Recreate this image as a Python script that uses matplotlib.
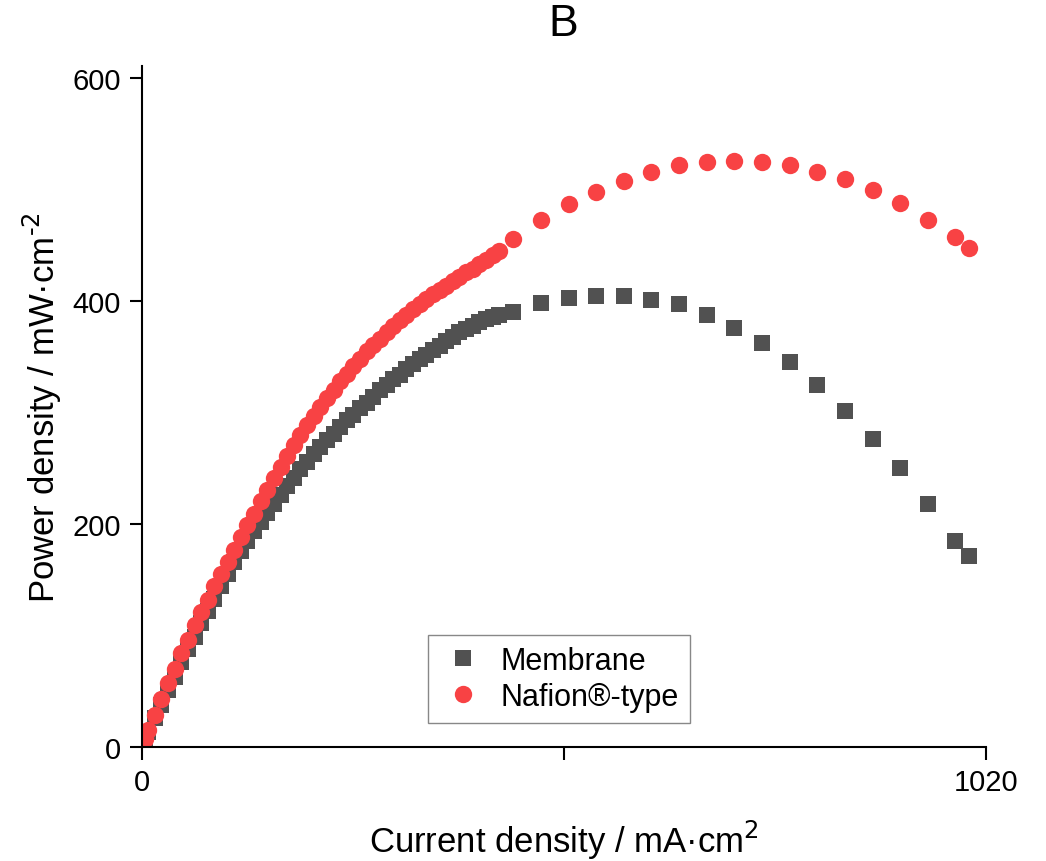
import matplotlib
matplotlib.use('Agg')
import matplotlib.pyplot as plt

plt.rcParams['font.family'] = ['Liberation Sans', 'DejaVu Sans']

# current density (mA/cm2) and power density (mW/cm2)
mem_current = [0, 4, 8, 16, 24, 32, 40, 48, 56, 64, 72, 80, 88, 96, 104, 112, 120,
               128, 136, 144, 152, 160, 168, 176, 184, 192, 200, 208, 216, 224, 232,
               240, 248, 256, 264, 272, 280, 288, 296, 304, 312, 320, 328, 336, 344,
               352, 360, 368, 376, 384, 392, 400, 408, 416, 424, 432,
               449, 482, 516, 549, 583, 616, 649, 683, 716, 750, 783, 816, 850, 883,
               916, 950, 983, 1000]
mem_power = [0, 6, 13, 26, 38, 51, 63, 76, 88, 99, 111, 122, 133, 144, 155, 166, 176,
             185, 194, 202, 210, 218, 226, 234, 241, 249, 256, 263, 269, 275, 281,
             287, 293, 298, 304, 309, 314, 320, 325, 330, 334, 339, 344, 348, 352,
             356, 360, 364, 368, 372, 375, 378, 381, 384, 386, 388,
             390, 398, 403, 405, 405, 401, 397, 388, 376, 362, 345, 325, 301, 276,
             250, 218, 185, 171]

naf_current = [0, 4, 8, 16, 24, 32, 40, 48, 56, 64, 72, 80, 88, 96, 104, 112, 120,
               128, 136, 144, 152, 160, 168, 176, 184, 192, 200, 208, 216, 224, 232,
               240, 248, 256, 264, 272, 280, 288, 296, 304, 312, 320, 328, 336, 344,
               352, 360, 368, 376, 384, 392, 400, 408, 416, 424, 432,
               449, 482, 516, 549, 583, 616, 649, 683, 716, 750, 783, 816, 850, 883,
               916, 950, 983, 1000]
naf_power = [0, 7, 15, 29, 43, 57, 70, 84, 96, 109, 121, 132, 144, 155, 166, 177, 188,
             199, 209, 221, 231, 241, 251, 261, 271, 280, 289, 297, 305, 313, 320,
             328, 335, 342, 348, 355, 361, 366, 372, 378, 383, 388, 393, 397, 402,
             406, 410, 414, 418, 422, 426, 429, 433, 437, 441, 445,
             456, 473, 487, 498, 508, 516, 522, 525, 526, 525, 522, 516, 510, 500,
             488, 473, 458, 448]

fig = plt.figure(figsize=(10.46, 8.62), dpi=100)
ax = fig.add_axes([0.1353, 0.1323, 0.8073, 0.79])

ax.plot(mem_current, mem_power, 's', color='#515151', markersize=11,
        markeredgewidth=0, label='Membrane')
ax.plot(naf_current, naf_power, 'o', color='#F84244', markersize=12.5,
        markeredgewidth=0, label='Nafion\u00ae-type')

ax.set_xlim(0, 1020)
ax.set_ylim(0, 611)
ax.set_xticks([0, 510, 1020])
ax.set_xticklabels(['0', '', '1020'])
ax.set_yticks([0, 200, 400, 600])

for s in ['top', 'right']:
    ax.spines[s].set_visible(False)
for s in ['left', 'bottom']:
    ax.spines[s].set_linewidth(1.5)
ax.tick_params(direction='out', length=9, width=1.5, labelsize=21, pad=6)

ax.set_xlabel('Current density / mA\u00b7cm$^2$', fontsize=25, labelpad=16)
ax.set_ylabel('Power density / mW\u00b7cm$^{\\text{-2}}$', fontsize=25, labelpad=6)
ax.set_title('B', fontsize=32, pad=22)

leg = ax.legend(loc='center', bbox_to_anchor=(0.494, 0.1), fontsize=22,
                fancybox=False, edgecolor='#888888', framealpha=1,
                handlelength=1.6, handletextpad=0.45, borderpad=0.35,
                labelspacing=0.2, borderaxespad=0)
leg.get_frame().set_linewidth(1)

fig.savefig('out.png', dpi=100)
